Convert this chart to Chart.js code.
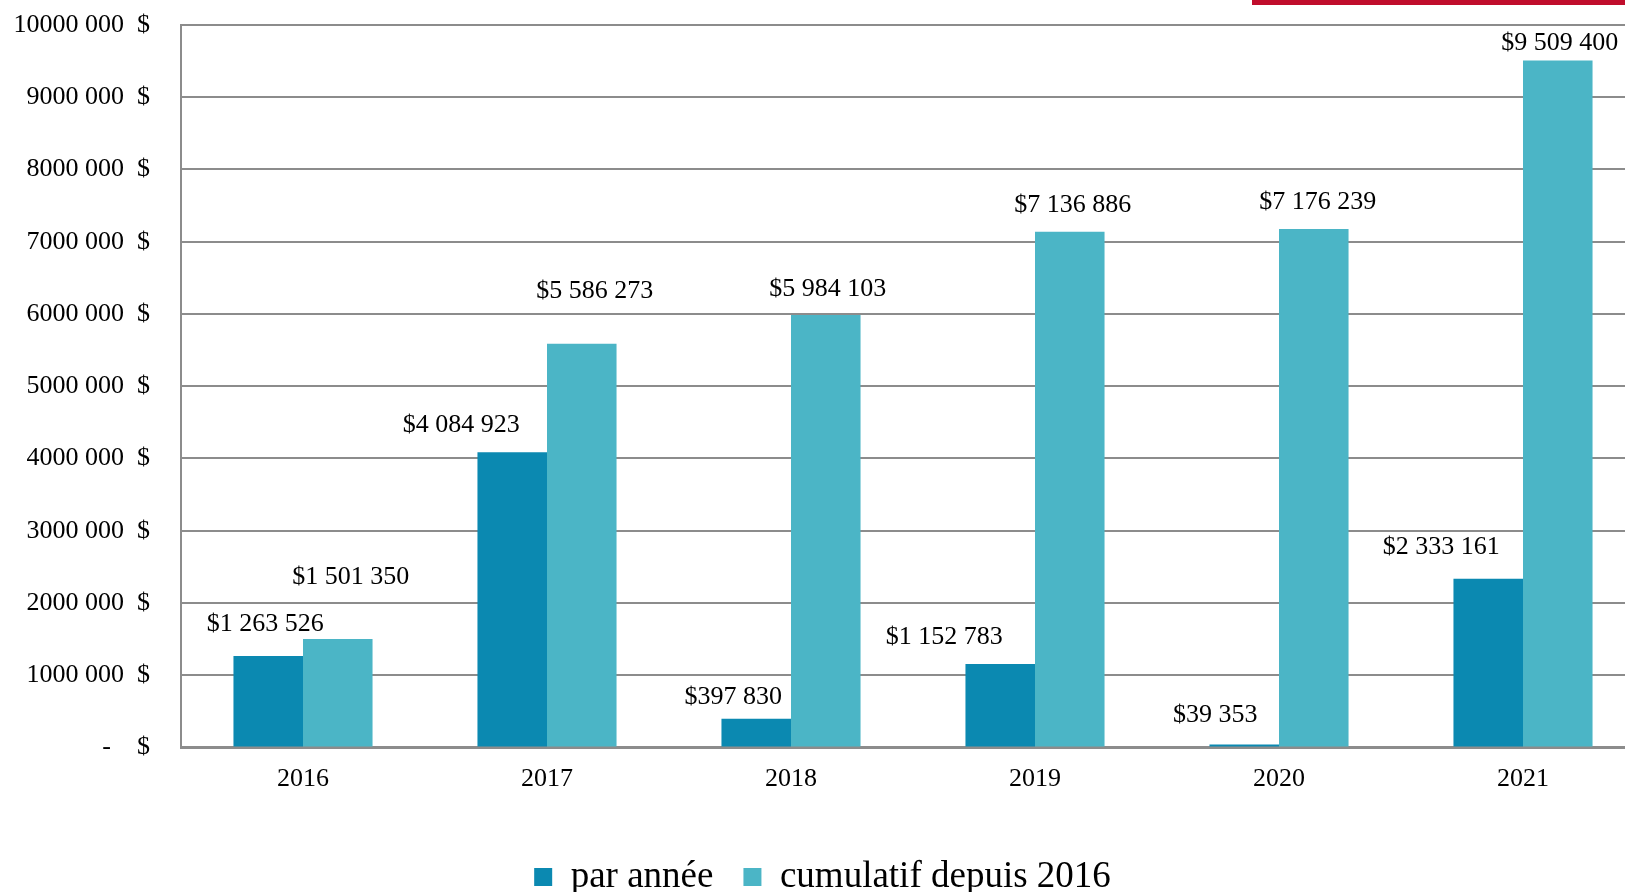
<!DOCTYPE html>
<html>
<head>
<meta charset="utf-8">
<script src="https://cdn.jsdelivr.net/npm/chart.js@4.4.0/dist/chart.umd.min.js"></script>
<style>
html, body { margin: 0; padding: 0; background: #fff; overflow: hidden; }
#wrap { position: absolute; left: 0; top: 0; width: 1660px; height: 930px; }
#redBar { position: absolute; left: 1252px; top: 0; width: 373px; height: 5px; background: #c00d2c; }
</style>
</head>
<body>
<div id="wrap"><canvas id="myChart"></canvas></div>
<div id="redBar"></div>
<script>
// categories and values
const years = ['2016', '2017', '2018', '2019', '2020', '2021'];
const perYear = [1263526, 4084923, 397830, 1152783, 39353, 2333161];
const cumulative = [1501350, 5586273, 5984103, 7136886, 7176239, 9509400];
const yTickValues = [0, 1000000, 2000000, 3000000, 4000000, 5000000, 6000000, 7000000, 8000000, 9000000, 10000000];

// hand placed value labels (offset from bar top centre, px)
const perYearLabelDx = [-3, -51, -23, -56, -29, -47];
const perYearLabelDy = [-32, -27, -21, -27, -29, -32];
const cumulLabelDx = [13, 13, 2, 3, 4, 2];
const cumulLabelDy = [-62, -53, -26, -27, -27, -17];

const serif = "'Liberation Serif', 'Times New Roman', serif";
const gridGrey = '#8c8c8c';

function money(v) {
	// $1 263 526
	return '$' + String(v).replace(/\B(?=(\d{3})+(?!\d))/g, ' ');
}

function yLabel(v) {
	if (v === 0) return '-    $';
	return (v / 1000) + ' 000  $';
}

const valueLabels = {
	id: 'valueLabels',
	afterDatasetsDraw(chart) {
		const c = chart.ctx;
		c.save();
		c.font = '26px ' + serif;
		c.fillStyle = '#000';
		c.textAlign = 'center';
		c.textBaseline = 'middle';
		chart.data.datasets.forEach((ds, di) => {
			const meta = chart.getDatasetMeta(di);
			const dx = di === 0 ? perYearLabelDx : cumulLabelDx;
			const dy = di === 0 ? perYearLabelDy : cumulLabelDy;
			meta.data.forEach((bar, i) => {
				c.fillText(money(ds.data[i]), bar.x + dx[i], bar.y + dy[i]);
			});
		});
		c.restore();
	}
};

const ctx = document.getElementById('myChart');

new Chart(ctx, {
	type: 'bar',
	data: {
		labels: years,
		datasets: [{
			label: 'par année',
			data: perYear,
			backgroundColor: '#0b89b1',
			categoryPercentage: 0.57,
			barPercentage: 1
		}, {
			label: 'cumulatif depuis 2016',
			data: cumulative,
			backgroundColor: '#4bb5c6',
			categoryPercentage: 0.57,
			barPercentage: 1
		}]
	},
	options: {
		responsive: true,
		maintainAspectRatio: false,
		animation: false,
		layout: {
			padding: { left: 0, right: 15, top: 25, bottom: 24.5 }
		},
		plugins: {
			tooltip: { enabled: false },
			legend: {
				position: 'bottom',
				labels: {
					font: { family: serif, size: 37 },
					color: '#000',
					boxWidth: 18,
					boxHeight: 18,
					padding: 30
				}
			}
		},
		scales: {
			x: {
				grid: { display: false, drawTicks: false },
				border: { display: true, color: gridGrey, width: 3 },
				ticks: {
					font: { family: serif, size: 26 },
					color: '#000',
					padding: 16
				},
				afterFit(scale) { scale.height = 81.1; }
			},
			y: {
				min: 0,
				max: 10000000,
				afterBuildTicks(scale) {
					scale.ticks = yTickValues.map(v => ({ value: v }));
				},
				grid: { color: gridGrey, lineWidth: 2, drawTicks: false },
				border: { display: true, color: gridGrey, width: 2 },
				ticks: {
					font: { family: serif, size: 26 },
					color: '#000',
					padding: 31,
					callback: v => yLabel(v)
				},
				afterFit(scale) {
					scale.width = 181;
					// tick padding shouldn't push the plot top down
					scale.paddingTop = 0;
					scale.paddingBottom = 0;
				}
			}
		}
	},
	plugins: [valueLabels]
});
</script>
</body>
</html>
